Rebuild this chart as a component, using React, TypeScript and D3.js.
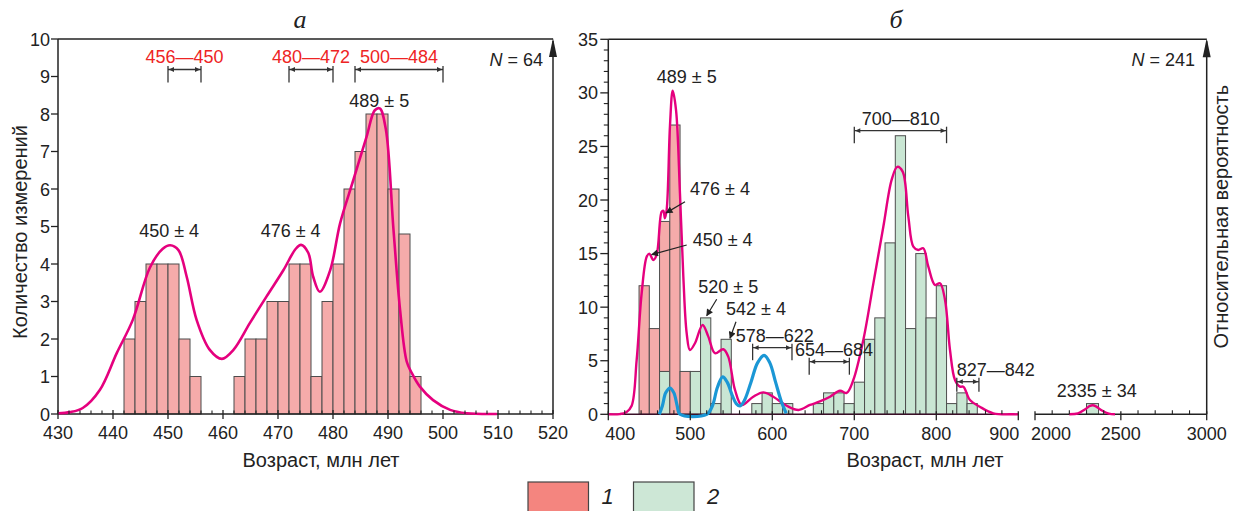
import React from 'react';
import * as d3 from 'd3';

// ---------- DATA ----------
// Panel a: histogram (bin width 2 Myr)
const aBinStart = [442, 444, 446, 448, 450, 452, 454, 462, 464, 466, 468, 470, 472, 474, 476, 478, 480, 482, 484, 486, 488, 490, 492, 494];
const aCounts = [2, 3, 4, 4, 4, 2, 1, 1, 2, 2, 3, 3, 4, 4, 1, 3, 4, 6, 7, 8, 8, 6, 4.8, 1];
const aBinWidth = 2;
const aKde: [number, number][] = [
  [430, 0.02], [432.2, 0.05], [434.5, 0.16], [437.6, 0.64], [440.7, 1.63], [443.6, 2.51], [446.7, 3.9],
  [449, 4.4], [450.4, 4.5], [451.9, 4.37], [453.4, 3.66], [455.2, 2.51], [457.6, 1.71], [459.8, 1.47],
  [461.9, 1.71], [464.9, 2.43], [467.9, 3.13], [471.0, 3.84], [473.2, 4.4], [474.2, 4.51], [475.5, 4.3],
  [476.4, 3.66], [477.6, 3.26], [479.5, 3.84], [481.3, 5.09], [483.7, 6.24], [486.1, 7.39], [487.6, 8.1],
  [488.5, 8.15], [489.6, 7.6], [491.0, 4.91], [492.2, 2.77], [493.4, 1.4], [494.3, 1.1], [495.8, 0.73],
  [498.2, 0.37], [501.3, 0.11], [504.3, 0.02], [509.8, 0]
];
const aTicksMajor = [430, 440, 450, 460, 470, 480, 490, 500, 510, 520];
const aYTicks = [0, 1, 2, 3, 4, 5, 6, 7, 8, 9, 10];
const aPeakLabels = [
  { age: 450.2, val: 4.72, text: '450 ± 4' },
  { age: 472.3, val: 4.72, text: '476 ± 4' },
  { age: 488.4, val: 8.19, text: '489 ± 5' }
];
const aRanges = [
  { from: 450, to: 456, text: '456—450' },
  { from: 472, to: 480, text: '480—472' },
  { from: 484, to: 500, text: '500—484' }
];

// Panel b: histogram (bin width 12.5 Myr), group 1 (red) stacked on group 2 (green)
const bBinStart = [437.5, 450, 462.5, 475, 487.5, 500, 512.5, 525, 537.5, 575, 587.5, 600, 612.5, 650, 662.5, 675, 687.5, 700, 712.5, 725, 737.5, 750, 762.5, 775, 787.5, 800, 812.5, 825, 837.5];
const bRed = [12, 8, 14, 27, 4, 0, 0, 0, 0, 0, 0, 0, 0, 0, 0, 0, 0, 0, 0, 0, 0, 0, 0, 0, 0, 0, 0, 0, 0];
const bGreen = [0, 0, 4, 0, 0, 4, 9, 1, 7, 1, 2, 1, 1, 1, 2, 2, 1, 3, 7, 9, 16, 26, 8, 15, 9, 12, 1, 2, 1];
const bBinWidth = 12.5;
const bFarBin = { from: 2300, to: 2370, count: 1 };
const bKde: [number, number][] = [
  [400, 0], [414, 0.02], [422, 0.2], [428.5, 0.8], [434.6, 5.07], [440.7, 11.3], [446.8, 14.7], [450, 15],
  [454.9, 14.4], [459, 14.9], [465, 18.9], [467.2, 19.0], [469, 18.3], [471.2, 19.1], [475.2, 26.9],
  [478.5, 30.2], [482.6, 28.4], [487.4, 20.6], [491.5, 12.85], [495.6, 7.56], [499.6, 6.0], [505.7, 6.63],
  [515, 8.34], [522, 7.25], [530.1, 5.7], [540.2, 6.07], [546.3, 5.38], [554.5, 2.27], [562.7, 0.87],
  [576.8, 1.64], [589, 2.05], [601.2, 1.64], [617.6, 0.8], [632, 0.4], [646, 0.87], [658, 1.2],
  [670.4, 1.64], [682.6, 2.2], [690.7, 2.0], [698.8, 3.2], [711, 6.94], [723.2, 12.2], [735.4, 17.5],
  [745.6, 21.9], [752.4, 23.1], [759, 22.65], [765.9, 18.45], [772, 15.65], [778, 15.34], [784.1, 15.5],
  [790.2, 13.8], [798.4, 12.07], [804.5, 12.23], [810.6, 10.7], [816.7, 6.0], [822.8, 3.2], [828.9, 2.58],
  [833, 2.58], [841, 1.34], [853, 0.71], [869.5, 0.09], [894, 0], [900, 0]
];
const bBlue: [number, number][] = [
  [462.2, 0], [466, 0.8], [470, 2.0], [475.2, 2.45], [480, 2.0], [484, 0.8], [487.4, 0], [520, 0],
  [527, 0.8], [533, 2.5], [539.5, 3.5], [545, 3.0], [551, 1.8], [556, 1.0], [560.6, 0.78], [566, 1.3],
  [574, 3.0], [582, 4.8], [590, 5.5], [597, 4.8], [604, 3.0], [611, 1.2], [617, 0.1]
];
const bFarKde: [number, number][] = [
  [2200, 0], [2250, 0.08], [2290, 0.45], [2320, 0.78], [2336, 0.85], [2355, 0.74], [2390, 0.35], [2430, 0.06], [2466, 0]
];
const bTicksMajor = [400, 500, 600, 700, 800, 900];
const bFarTicksMajor = [2000, 2500, 3000];
const bYTicks = [0, 5, 10, 15, 20, 25, 30, 35];
const bArrowLabels = [
  { text: '476 ± 4', tx: 690, ty: 195, from: [685, 201.7], age: 470.5, val: 18.8 },
  { text: '450 ± 4', tx: 692.7, ty: 246, from: [686.7, 245], age: 452.9, val: 14.9 },
  { text: '520 ± 5', tx: 698.3, ty: 292.7, from: [716.7, 299.3], age: 520, val: 9.2 },
  { text: '542 ± 4', tx: 726, ty: 315, from: [736, 321.7], age: 548.4, val: 7.1 }
];
const bRanges = [
  { from: 576, to: 624, text: '578—622', y: 347.7, tx: 735.7, down: 12.5 },
  { from: 645, to: 694, text: '654—684', y: 361.7, tx: 795, down: 13 },
  { from: 700, to: 812.5, text: '700—810', y: 130.7, tx: 861.7, down: 12.5 },
  { from: 825, to: 852, text: '827—842', y: 381.7, tx: 956.7, down: 10 }
];
const legendItems = [
  { label: '1', fill: '#f4857f' },
  { label: '2', fill: '#cde7d6' }
];

// ---------- STYLE ----------
const FONT = "'Liberation Sans', Arial, Helvetica, sans-serif";
const SERIF = "'Liberation Serif', 'Times New Roman', serif";
const PINK = '#f5abaa';
const GREEN = '#c9e6d3';
const BAR_STROKE = '#4d4d4d';
const MAGENTA = '#e5007e';
const BLUE = '#1b97d5';
const INK = '#222';
const RED_TEXT = '#ee2424';

const xA = d3.scaleLinear().domain([430, 520]).range([58, 553]);
const yA = d3.scaleLinear().domain([0, 10]).range([414, 39]);
const xB = d3.scaleLinear().domain([400, 900]).range([608.3, 1018.3]);
const xF = d3.scaleLinear().domain([2000, 3000]).range([1035, 1206.7]);
const yB = d3.scaleLinear().domain([0, 35]).range([414.3, 39.3]);

function Bracket({ x1, x2, y, up = 4, down = 12 }: { x1: number; x2: number; y: number; up?: number; down?: number }) {
  const ah = 6, aw = 2.4;
  return (
    <g stroke="#333" strokeWidth={1.3} fill="#333">
      <line x1={x1} x2={x2} y1={y} y2={y} />
      <line x1={x1} x2={x1} y1={y - up} y2={y + down} />
      <line x1={x2} x2={x2} y1={y - up} y2={y + down} />
      <path d={`M${x1 + 0.8},${y} L${x1 + ah},${y - aw} L${x1 + ah},${y + aw} Z`} stroke="none" />
      <path d={`M${x2 - 0.8},${y} L${x2 - ah},${y - aw} L${x2 - ah},${y + aw} Z`} stroke="none" />
    </g>
  );
}

function UpArrow({ x, top }: { x: number; top: number }) {
  return <path d={`M${x},${top} L${x - 4},${top + 19} L${x + 4},${top + 19} Z`} fill={INK} />;
}

export default function App() {
  const lineA = d3.line<[number, number]>().x(d => xA(d[0])).y(d => yA(d[1])).curve(d3.curveCatmullRom.alpha(0.5));
  const lineB = d3.line<[number, number]>().x(d => xB(d[0])).y(d => yB(d[1])).curve(d3.curveCatmullRom.alpha(0.5));
  const lineF = d3.line<[number, number]>().x(d => xF(d[0])).y(d => yB(d[1])).curve(d3.curveCatmullRom.alpha(0.5));

  const aMinor = d3.range(430, 521, 2).filter(v => v % 10 !== 0);
  const bMinor = d3.range(400, 901, 20).filter(v => v % 100 !== 0);
  const fMinor = d3.range(2000, 3001, 100).filter(v => v % 500 !== 0);
  const bYMinor = d3.range(0, 36, 1).filter(v => v % 5 !== 0);

  const bLabelAnchor = (v: number) => (v === 900 ? 'end' : 'middle');
  const bLabelX = (v: number) => (v === 400 ? xB(v) + 12 : v === 900 ? xB(v) + 1 : xB(v));

  return (
    <svg width={1240} height={511} style={{ position: 'absolute', left: 0, top: 0, background: '#fff' }} fontFamily={FONT}>
      <defs>
        <marker id="ah" viewBox="0 0 10 10" refX="9" refY="5" markerWidth="8" markerHeight="7" markerUnits="userSpaceOnUse" orient="auto">
          <path d="M0,0 L10,5 L0,10 Z" fill="#222" />
        </marker>
      </defs>

      {/* Titles */}
      <text x={300} y={28} fontFamily={SERIF} fontStyle="italic" fontSize={26} textAnchor="middle" fill={INK}>а</text>
      <text x={896} y={28} fontFamily={SERIF} fontStyle="italic" fontSize={26} textAnchor="middle" fill={INK}>б</text>

      {/* ---------- Panel a ---------- */}
      <g>
        {aBinStart.map((s, i) => (
          <rect key={i} x={xA(s)} y={yA(aCounts[i])} width={xA(s + aBinWidth) - xA(s)} height={yA(0) - yA(aCounts[i])}
            fill={PINK} stroke={BAR_STROKE} strokeWidth={1} />
        ))}
        {/* frame */}
        <line x1={xA(430)} x2={xA(520)} y1={yA(10)} y2={yA(10)} stroke={INK} strokeWidth={1.5} />
        <line x1={xA(430)} x2={xA(430)} y1={yA(0)} y2={yA(10)} stroke={INK} strokeWidth={1.5} />
        <line x1={xA(520)} x2={xA(520)} y1={yA(0)} y2={yA(10) + 2} stroke={INK} strokeWidth={1.5} />
        <UpArrow x={xA(520)} top={yA(10) - 1} />
        <line x1={xA(430)} x2={xA(520)} y1={yA(0)} y2={yA(0)} stroke={INK} strokeWidth={1.5} />
        <path d={lineA(aKde) || ''} fill="none" stroke={MAGENTA} strokeWidth={2.6} />
        {/* ticks */}
        {aTicksMajor.map(v => (
          <g key={v}>
            <line x1={xA(v)} x2={xA(v)} y1={yA(0) - 4} y2={yA(0) + 5} stroke={INK} strokeWidth={1.3} />
            <text x={xA(v)} y={439} fontSize={18} textAnchor="middle" fill={INK}>{v}</text>
          </g>
        ))}
        {aMinor.map(v => <line key={v} x1={xA(v)} x2={xA(v)} y1={yA(0) - 3.5} y2={yA(0)} stroke={INK} strokeWidth={1.1} />)}
        {aYTicks.map(v => (
          <g key={v}>
            <line x1={xA(430) - 7} x2={xA(430)} y1={yA(v)} y2={yA(v)} stroke={INK} strokeWidth={1.3} />
            <text x={50} y={yA(v) + 6.5} fontSize={18} textAnchor="end" fill={INK}>{v}</text>
          </g>
        ))}
        {/* annotations */}
        {aPeakLabels.map(l => (
          <text key={l.text} x={xA(l.age)} y={yA(l.val)} fontSize={18} textAnchor="middle" fill={INK}>{l.text}</text>
        ))}
        {aRanges.map(r => (
          <g key={r.text}>
            <text x={(xA(r.from) + xA(r.to)) / 2} y={63.3} fontSize={18} textAnchor="middle" fill={RED_TEXT}>{r.text}</text>
            <Bracket x1={xA(r.from)} x2={xA(r.to)} y={69.5} up={3.5} down={13} />
          </g>
        ))}
        <text x={543} y={66} fontSize={18} textAnchor="end" fill={INK}><tspan fontStyle="italic">N</tspan> = 64</text>
        <text transform="translate(27,232) rotate(-90)" fontSize={20} textAnchor="middle" fill={INK}>Количество измерений</text>
        <text x={321} y={467} fontSize={20} textAnchor="middle" fill={INK}>Возраст, млн лет</text>
      </g>

      {/* ---------- Panel b ---------- */}
      <g>
        {bBinStart.map((s, i) => {
          const g = bGreen[i], r = bRed[i];
          const x = xB(s), w = xB(s + bBinWidth) - xB(s);
          return (
            <g key={i}>
              {g > 0 && <rect x={x} y={yB(g)} width={w} height={yB(0) - yB(g)} fill={GREEN} stroke={BAR_STROKE} strokeWidth={1} />}
              {r > 0 && <rect x={x} y={yB(g + r)} width={w} height={yB(g) - yB(g + r)} fill={PINK} stroke={BAR_STROKE} strokeWidth={1} />}
            </g>
          );
        })}
        <rect x={xF(bFarBin.from)} y={yB(bFarBin.count)} width={xF(bFarBin.to) - xF(bFarBin.from)} height={yB(0) - yB(bFarBin.count)}
          fill={GREEN} stroke={BAR_STROKE} strokeWidth={1} />
        {/* frame */}
        <line x1={xB(400)} x2={xF(3000)} y1={yB(35)} y2={yB(35)} stroke={INK} strokeWidth={1.5} />
        <line x1={xB(400)} x2={xB(400)} y1={yB(0)} y2={yB(35)} stroke={INK} strokeWidth={1.5} />
        <line x1={xF(3000)} x2={xF(3000)} y1={yB(0)} y2={yB(35) + 2} stroke={INK} strokeWidth={1.5} />
        <UpArrow x={xF(3000)} top={yB(35) - 1} />
        <line x1={xB(400)} x2={xB(900)} y1={yB(0)} y2={yB(0)} stroke="#3a1028" strokeWidth={1.6} />
        <line x1={xF(2000)} x2={xF(3000)} y1={yB(0)} y2={yB(0)} stroke={INK} strokeWidth={1.5} />
        {/* curves */}
        <path d={lineB(bKde) || ''} fill="none" stroke={MAGENTA} strokeWidth={2.4} />
        <path d={lineF(bFarKde) || ''} fill="none" stroke={MAGENTA} strokeWidth={2.4} />
        <path d={lineB(bBlue) || ''} fill="none" stroke={BLUE} strokeWidth={3.2} strokeLinejoin="round" />
        {/* ticks */}
        {bTicksMajor.map(v => (
          <g key={v}>
            <line x1={xB(v)} x2={xB(v)} y1={yB(0) - 3} y2={yB(0) + 6} stroke={INK} strokeWidth={1.3} />
            <text x={bLabelX(v)} y={440} fontSize={18} textAnchor={bLabelAnchor(v)} fill={INK}>{v}</text>
          </g>
        ))}
        {bMinor.map(v => <line key={v} x1={xB(v)} x2={xB(v)} y1={yB(0) - 4} y2={yB(0)} stroke={INK} strokeWidth={1.1} />)}
        {bFarTicksMajor.map(v => (
          <g key={v}>
            <line x1={xF(v)} x2={xF(v)} y1={yB(0) - 3} y2={yB(0) + 6} stroke={INK} strokeWidth={1.3} />
            <text x={v === 2000 ? xF(v) - 4 : xF(v)} y={440} fontSize={18} textAnchor={v === 2000 ? 'start' : 'middle'} fill={INK}>{v}</text>
          </g>
        ))}
        {fMinor.map(v => <line key={v} x1={xF(v)} x2={xF(v)} y1={yB(0) - 4} y2={yB(0)} stroke={INK} strokeWidth={1.1} />)}
        {bYTicks.map(v => (
          <g key={v}>
            <line x1={xB(400) - 8} x2={xB(400)} y1={yB(v)} y2={yB(v)} stroke={INK} strokeWidth={1.3} />
            <text x={598} y={yB(v) + 6.5} fontSize={18} textAnchor="end" fill={INK}>{v}</text>
          </g>
        ))}
        {bYMinor.map(v => <line key={v} x1={xB(400) - 4.5} x2={xB(400)} y1={yB(v)} y2={yB(v)} stroke={INK} strokeWidth={1.1} />)}
        {/* annotations */}
        <text x={686.7} y={83.3} fontSize={18} textAnchor="middle" fill={INK}>489 ± 5</text>
        {bArrowLabels.map(l => (
          <g key={l.text}>
            <text x={l.tx} y={l.ty} fontSize={18} fill={INK}>{l.text}</text>
            <line x1={l.from[0]} y1={l.from[1]} x2={xB(l.age)} y2={yB(l.val)} stroke="#222" strokeWidth={1.2} markerEnd="url(#ah)" />
          </g>
        ))}
        {bRanges.map(r => (
          <g key={r.text}>
            <text x={r.tx} y={r.y - 5.5} fontSize={18} fill={INK}>{r.text}</text>
            <Bracket x1={xB(r.from)} x2={xB(r.to)} y={r.y} up={4} down={r.down} />
          </g>
        ))}
        <text x={1096.7} y={396.7} fontSize={18} textAnchor="middle" fill={INK}>2335 ± 34</text>
        <text x={1195} y={66} fontSize={18} textAnchor="end" fill={INK}><tspan fontStyle="italic">N</tspan> = 241</text>
        <text transform="translate(1228,216.7) rotate(-90)" fontSize={20} textAnchor="middle" fill={INK}>Относительная вероятность</text>
        <text x={925} y={467} fontSize={20} textAnchor="middle" fill={INK}>Возраст, млн лет</text>
      </g>

      {/* Legend */}
      {legendItems.map((it, i) => (
        <g key={it.label} transform={`translate(${528 + i * 105.5},482)`}>
          <rect x={0} y={0} width={60.5} height={32} fill={it.fill} stroke="#444" strokeWidth={1.2} />
          <text x={73.5} y={22} fontSize={22} fontStyle="italic" fill={INK}>{it.label}</text>
        </g>
      ))}
    </svg>
  );
}
